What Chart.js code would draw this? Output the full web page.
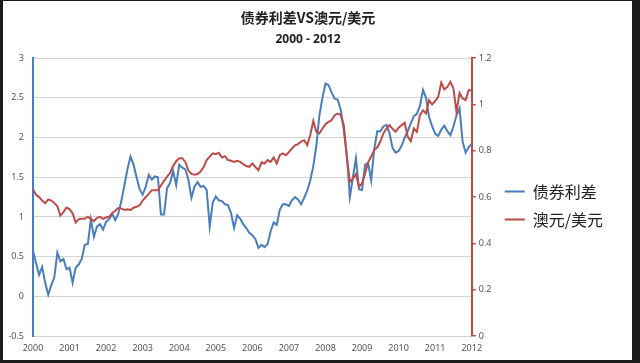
<!DOCTYPE html>
<html>
<head>
<meta charset="utf-8">
<script src="https://cdn.jsdelivr.net/npm/chart.js@4.4.1/dist/chart.umd.min.js"></script>
<style>
  html, body { margin: 0; padding: 0; background: #1c1c1c; }
  #box { position: absolute; left: 3px; top: 1px; width: 629px; height: 359px; background: #fff; }
</style>
</head>
<body>
<div id="box"><canvas id="myChart" width="629" height="359"></canvas></div>
<script>
// monthly values, Jan 2000 .. Jan 2012
const years = [2000, 2001, 2002, 2003, 2004, 2005, 2006, 2007, 2008, 2009, 2010, 2011, 2012];
const spreadTicks = [-0.5, 0, 0.5, 1, 1.5, 2, 2.5, 3];
const audTicks = [0, 0.2, 0.4, 0.6, 0.8, 1, 1.2];

const spread = [
  0.57, 0.42, 0.27, 0.37, 0.17, 0.02, 0.14, 0.24, 0.55, 0.44, 0.47, 0.34,
  0.36, 0.17, 0.36, 0.40, 0.47, 0.65, 0.66, 0.97, 0.75, 0.88, 0.91, 0.84,
  0.94, 0.97, 1.04, 0.96, 1.04, 1.20, 1.40, 1.60, 1.76, 1.66, 1.50, 1.35,
  1.28, 1.38, 1.53, 1.47, 1.51, 1.50, 1.03, 1.03, 1.36, 1.43, 1.58, 1.40,
  1.66, 1.62, 1.60, 1.47, 1.24, 1.38, 1.44, 1.38, 1.39, 1.34, 0.88, 1.18,
  1.26, 1.21, 1.20, 1.16, 1.15, 1.05, 0.86, 1.02, 0.98, 0.91, 0.86, 0.80,
  0.77, 0.72, 0.61, 0.65, 0.62, 0.66, 0.82, 0.93, 0.90, 1.09, 1.16, 1.16,
  1.14, 1.21, 1.25, 1.22, 1.16, 1.24, 1.33, 1.46, 1.64, 1.90, 2.28, 2.50,
  2.68, 2.66, 2.57, 2.49, 2.48, 2.35, 2.10, 1.78, 1.25, 1.50, 1.74, 1.35,
  1.34, 1.66, 1.68, 1.46, 1.85, 2.08, 2.08, 2.14, 2.16, 2.06, 1.87, 1.81,
  1.83, 1.90, 2.00, 2.08, 2.18, 2.27, 2.30, 2.40, 2.60, 2.50, 2.26, 2.14,
  2.05, 2.02, 2.10, 2.15, 2.08, 2.03, 2.14, 2.28, 2.37, 1.95, 1.81, 1.88,
  1.92
];

const audUsd = [
  0.634, 0.610, 0.600, 0.585, 0.573, 0.590, 0.585, 0.575, 0.560, 0.520, 0.535, 0.555,
  0.548, 0.530, 0.490, 0.505, 0.506, 0.506, 0.515, 0.505, 0.496, 0.510, 0.515, 0.506,
  0.512, 0.515, 0.530, 0.541, 0.553, 0.551, 0.544, 0.547, 0.544, 0.554, 0.558, 0.565,
  0.585, 0.600, 0.614, 0.630, 0.630, 0.630, 0.650, 0.670, 0.688, 0.705, 0.735, 0.755,
  0.768, 0.768, 0.752, 0.715, 0.700, 0.697, 0.700, 0.710, 0.730, 0.760, 0.775, 0.789,
  0.785, 0.791, 0.771, 0.777, 0.760, 0.757, 0.752, 0.757, 0.752, 0.742, 0.734, 0.731,
  0.745, 0.730, 0.716, 0.750, 0.745, 0.760, 0.752, 0.771, 0.745, 0.781, 0.789, 0.781,
  0.795, 0.810, 0.824, 0.829, 0.840, 0.846, 0.825, 0.868, 0.929, 0.882, 0.875, 0.896,
  0.915, 0.925, 0.932, 0.954, 0.961, 0.955, 0.911, 0.774, 0.666, 0.680, 0.700, 0.645,
  0.659, 0.702, 0.750, 0.775, 0.803, 0.815, 0.840, 0.875, 0.896, 0.911, 0.895, 0.882,
  0.900, 0.911, 0.921, 0.860, 0.842, 0.896, 0.882, 0.954, 0.975, 0.961, 1.019, 1.000,
  1.015, 1.033, 1.094, 1.065, 1.076, 1.098, 1.069, 0.968, 1.050, 1.026, 1.019, 1.062,
  1.062
];

const blue = '#4a7ebb';
const red = '#be4b48';
const tickFont = { family: "'Noto Sans', sans-serif", size: 9 };
const cjkFont = "'Noto Sans CJK SC', 'Noto Sans', sans-serif";

function toPoints(values) {
  return values.map((v, i) => ({ x: years[0] + i / 12, y: v }));
}

function fixedTicks(list) {
  return axis => { axis.ticks = list.map(v => ({ value: v })); };
}

const config = {
  type: 'line',
  data: {
    datasets: [{
      label: '债券利差',
      data: toPoints(spread),
      yAxisID: 'y',
      borderColor: blue,
      backgroundColor: blue,
      borderWidth: 2,
      pointRadius: 0,
      tension: 0,
      order: 1
    }, {
      label: '澳元/美元',
      data: toPoints(audUsd),
      yAxisID: 'y1',
      borderColor: red,
      backgroundColor: red,
      borderWidth: 2,
      pointRadius: 0,
      tension: 0,
      order: 0
    }]
  },
  options: {
    responsive: false,
    animation: false,
    layout: { padding: { left: 0, right: 19, top: 0, bottom: 0 } },
    plugins: {
      tooltip: { enabled: false },
      title: {
        display: true,
        text: '债券利差VS澳元/美元',
        color: '#222',
        font: { family: cjkFont, size: 14, weight: 'bold' },
        padding: { top: 8, bottom: 4 }
      },
      subtitle: {
        display: true,
        text: '2000 - 2012',
        color: '#222',
        font: { family: "'Open Sans', sans-serif", size: 12, weight: 'bold' },
        padding: { top: 3, bottom: 11 }
      },
      legend: {
        position: 'right',
        align: 'center',
        maxWidth: 160,
        // empty title only pushes the two entries down to where they sit in the original
        title: { display: true, text: ' ', font: { size: 10, lineHeight: 1 }, padding: { top: 20, bottom: 20 } },
        labels: {
          usePointStyle: true,
          pointStyle: 'line',
          pointStyleWidth: 20,
          color: '#222',
          padding: 12,
          font: { family: cjkFont, size: 16 },
          sort: (a, b) => a.datasetIndex - b.datasetIndex
        }
      }
    },
    scales: {
      x: {
        type: 'linear',
        min: 2000,
        max: 2012,
        afterBuildTicks: fixedTicks(years),
        afterFit: scale => { scale.height = 24; },
        grid: { display: false, drawTicks: false },
        border: { display: false },
        ticks: { padding: 7, color: '#555', font: tickFont, maxRotation: 0, autoSkip: false, callback: v => String(v) }
      },
      y: {
        position: 'left',
        min: -0.5,
        max: 3,
        afterBuildTicks: fixedTicks(spreadTicks),
        afterFit: scale => { scale.width = 30; },
        grid: { color: '#d4d4d4', drawTicks: false },
        border: { color: blue, width: 2 },
        ticks: { padding: 9, color: '#555', font: tickFont, autoSkip: false, callback: v => String(v) }
      },
      y1: {
        position: 'right',
        min: 0,
        max: 1.2,
        afterBuildTicks: fixedTicks(audTicks),
        afterFit: scale => { scale.width = 21; },
        grid: { drawOnChartArea: false, color: red, tickLength: 4, lineWidth: 1.5 },
        border: { color: red, width: 2 },
        ticks: { padding: 3, color: '#555', font: tickFont, autoSkip: false, callback: v => String(v) }
      }
    }
  }
};

let myChart;
const fontsReady = document.fonts && document.fonts.load
  ? Promise.all([
      document.fonts.load("16px 'Noto Sans CJK SC'", '债券利差澳元/美元'),
      document.fonts.load("bold 14px 'Noto Sans CJK SC'", '债券利差VS澳元/美元'),
      document.fonts.load("9px 'Noto Sans'", '0123456789'),
      document.fonts.load("bold 12px 'Open Sans'", '2000 - 2012')
    ]).catch(() => null)
  : Promise.resolve();

fontsReady.then(() => {
  myChart = new Chart(document.getElementById('myChart'), config);
});
</script>
</body>
</html>
